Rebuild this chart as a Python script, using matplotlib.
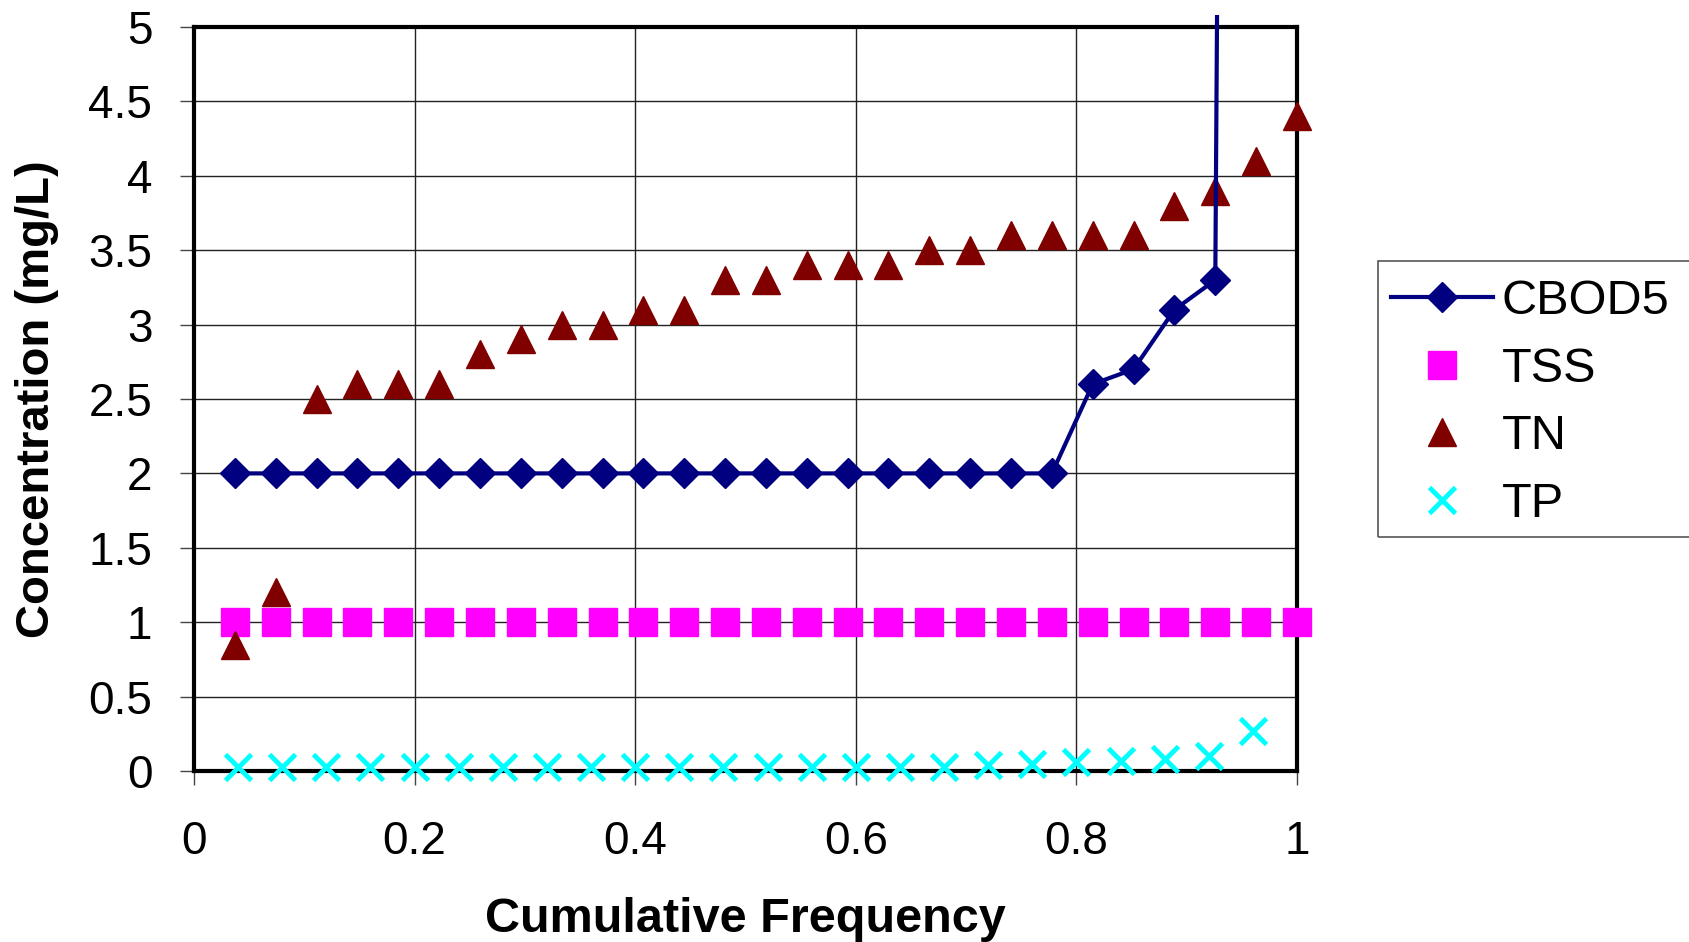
import matplotlib
matplotlib.use("Agg")
import matplotlib.pyplot as plt
from matplotlib.lines import Line2D
from matplotlib.patches import Rectangle

plt.rcParams['font.family'] = ['Liberation Sans', 'DejaVu Sans']

# Cumulative frequency positions (27 samples for CBOD5 / TSS / TN, 24 for TP)
n27 = 27
freq27 = [i / n27 for i in range(1, n27 + 1)]
freq_tp = [i / 25 for i in range(1, 25)]

cbod5 = [2.0] * 21 + [2.6, 2.7, 3.1, 3.3, 45.0]
tss = [1.0] * 27
tn = [0.85, 1.2, 2.5, 2.6, 2.6, 2.6, 2.8, 2.9, 3.0, 3.0, 3.1, 3.1, 3.3, 3.3,
      3.4, 3.4, 3.4, 3.5, 3.5, 3.6, 3.6, 3.6, 3.6, 3.8, 3.9, 4.1, 4.4]
tp = [0.03] * 17 + [0.04, 0.05, 0.06, 0.07, 0.08, 0.1, 0.27]

x_ticks = [0, 0.2, 0.4, 0.6, 0.8, 1]
x_labels = ['0', '0.2', '0.4', '0.6', '0.8', '1']
y_ticks = [0, 0.5, 1, 1.5, 2, 2.5, 3, 3.5, 4, 4.5, 5]
y_labels = ['0', '0.5', '1', '1.5', '2', '2.5', '3', '3.5', '4', '4.5', '5']

W, H = 1690, 942
fig = plt.figure(figsize=(W / 100, H / 100), dpi=100)
ax = fig.add_axes([194 / W, 1 - 771 / H, (1297 - 194) / W, (771 - 27) / H])

navy = '#000080'
magenta = '#FF00FF'
maroon = '#800000'
cyan = '#00FFFF'

ax.plot(freq27[:len(cbod5)], cbod5, color=navy, lw=3, marker='D', ms=15,
        mfc=navy, mec=navy, zorder=5, label='CBOD5')
ax.plot(freq27, tss, ls='none', marker='s', ms=20, mfc=magenta, mec=magenta,
        zorder=3, label='TSS', clip_on=False)
ax.plot(freq27, tn, ls='none', marker='^', ms=20, mfc=maroon, mec=maroon,
        zorder=4, label='TN', clip_on=False)
ax.plot(freq_tp, tp, ls='none', marker='x', ms=19, mew=3.5, color=cyan,
        zorder=4, label='TP', clip_on=False)

# let the CBOD5 line run slightly past the top of the plot area
clip = Rectangle((0, 0), 1.0, 1.016, transform=ax.transAxes,
                 facecolor='none', edgecolor='none')
ax.add_patch(clip)
ax.lines[0].set_clip_path(clip)

ax.set_xlim(0, 1)
ax.set_ylim(0, 5)
ax.set_xticks(x_ticks)
ax.set_xticklabels(x_labels)
ax.set_yticks(y_ticks)
ax.set_yticklabels(y_labels)
ax.grid(True, color='#222222', lw=1.0, zorder=0)
ax.set_axisbelow(True)
for s in ax.spines.values():
    s.set_linewidth(3)
    s.set_color('black')
ax.tick_params(axis='both', labelsize=33, direction='out', length=10,
               width=1, color='#444444')
ax.tick_params(axis='x', pad=25)
ax.tick_params(axis='y', pad=20)

ax.set_xlabel('Cumulative Frequency', fontsize=35, fontweight='bold', labelpad=24)
ax.set_ylabel('Concentration (mg/L)', fontsize=34, fontweight='bold', labelpad=21)

handles = [
    Line2D([], [], color=navy, lw=3, marker='D', ms=15, mfc=navy, mec=navy),
    Line2D([], [], ls='none', marker='s', ms=20, mfc=magenta, mec=magenta),
    Line2D([], [], ls='none', marker='^', ms=20, mfc=maroon, mec=maroon),
    Line2D([], [], ls='none', marker='x', ms=19, mew=3.5, color=cyan),
]
leg = fig.legend(handles, ['CBOD5', 'TSS', 'TN', 'TP'],
                 loc='center left', bbox_to_anchor=(1391 / W, 1 - 403 / H),
                 frameon=False, fontsize=35, borderpad=0, borderaxespad=0,
                 handlelength=2.1, handletextpad=0.18, labelspacing=0.46)
fig.patches.append(Rectangle((1378 / W, 1 - 537 / H), 0.3, (537 - 261) / H,
                             transform=fig.transFigure, facecolor='none',
                             edgecolor='#555555', lw=1.2))

fig.savefig('out.png', dpi=100)
